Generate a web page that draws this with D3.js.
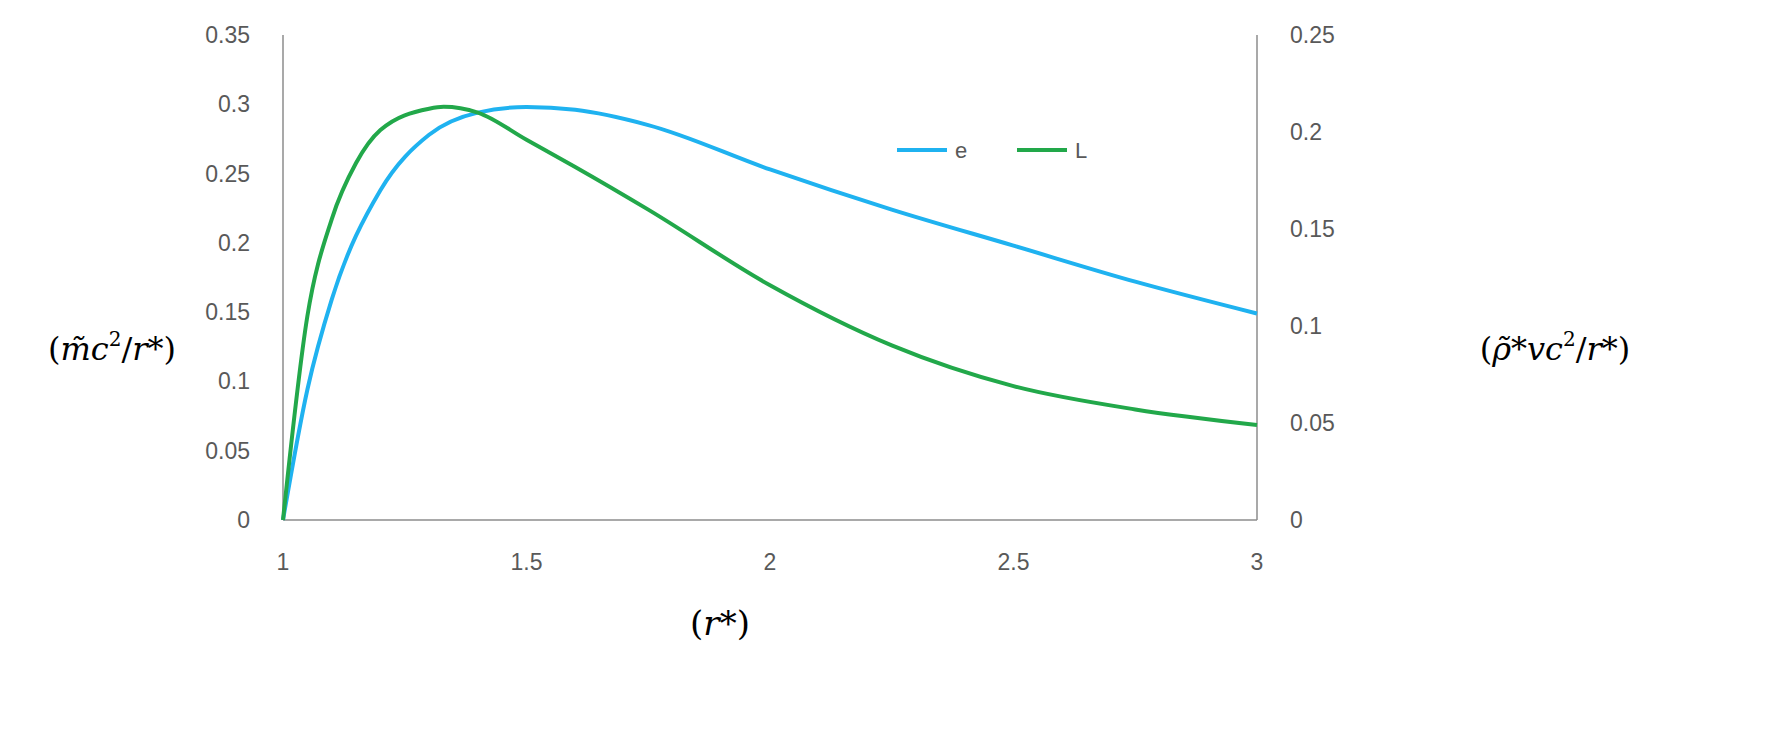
<!DOCTYPE html><html><head><meta charset="utf-8"><script src="https://cdn.jsdelivr.net/npm/d3@7"></script>
<style>body{margin:0;background:#fff}</style></head><body><svg id="c" width="1783" height="752"></svg>
<script>
const rVals=[1,1.05,1.1,1.2,1.3,1.4,1.5,1.6,1.75,2,2.25,2.5,2.75,3];
const eVals=[0,0.094,0.159,0.238,0.278,0.294,0.298,0.296,0.285,0.253,0.224,0.198,0.172,0.149];
const lR=[1,1.05,1.1,1.15,1.2,1.3,1.33,1.4,1.5,1.6,1.75,2,2.25,2.5,2.75,3];
const lVals=[0,0.105,0.155,0.184,0.201,0.212,0.213,0.210,0.196,0.182,0.160,0.121,0.090,0.069,0.057,0.049];
const xTicks=[1,1.5,2,2.5,3];
const yLTicks=[0,0.05,0.1,0.15,0.2,0.25,0.3,0.35];
const yRTicks=[0,0.05,0.1,0.15,0.2,0.25];
const svg=d3.select("#c");
const x=d3.scaleLinear().domain([1,3]).range([283,1257]);
const yl=d3.scaleLinear().domain([0,0.35]).range([520,35]);
const yr=d3.scaleLinear().domain([0,0.25]).range([520,35]);
const g="#8c8c8c",tc="#595959";
svg.append("line").attr("x1",283).attr("x2",283).attr("y1",35).attr("y2",520).attr("stroke",g).attr("stroke-width",1.5);
svg.append("line").attr("x1",1257).attr("x2",1257).attr("y1",35).attr("y2",520).attr("stroke",g).attr("stroke-width",1.5);
svg.append("line").attr("x1",283).attr("x2",1257).attr("y1",520).attr("y2",520).attr("stroke",g).attr("stroke-width",1.5);
const f="Liberation Sans, Arial, sans-serif";
svg.selectAll(".xl").data(xTicks).join("text").attr("x",d=>x(d)).attr("y",570).attr("text-anchor","middle").attr("font-family",f).attr("font-size",23).attr("fill",tc).text(d=>d);
svg.selectAll(".yl").data(yLTicks).join("text").attr("x",250).attr("y",d=>yl(d)+8).attr("text-anchor","end").attr("font-family",f).attr("font-size",23).attr("fill",tc).text(d=>d);
svg.selectAll(".yr").data(yRTicks).join("text").attr("x",1290).attr("y",d=>yr(d)+8).attr("text-anchor","start").attr("font-family",f).attr("font-size",23).attr("fill",tc).text(d=>d);
const le=d3.line().x((d,i)=>x(rVals[i])).y(d=>yl(d)).curve(d3.curveMonotoneX);
const ll=d3.line().x((d,i)=>x(lR[i])).y(d=>yr(d)).curve(d3.curveMonotoneX);
svg.append("path").attr("d",le(eVals)).attr("fill","none").attr("stroke","#1fb2f0").attr("stroke-width",4);
svg.append("path").attr("d",ll(lVals)).attr("fill","none").attr("stroke","#22a84a").attr("stroke-width",4);
svg.append("line").attr("x1",897).attr("x2",947).attr("y1",150).attr("y2",150).attr("stroke","#1fb2f0").attr("stroke-width",4);
svg.append("text").attr("x",955).attr("y",158).attr("font-family",f).attr("font-size",22).attr("fill",tc).text("e");
svg.append("line").attr("x1",1017).attr("x2",1067).attr("y1",150).attr("y2",150).attr("stroke","#22a84a").attr("stroke-width",4);
svg.append("text").attr("x",1075).attr("y",158).attr("font-family",f).attr("font-size",22).attr("fill",tc).text("L");
const sf="DejaVu Serif, Liberation Serif, serif";
const a1=svg.append("text").attr("x",112).attr("y",360).attr("text-anchor","middle").attr("font-family",sf).attr("font-size",32).attr("fill","#000");
a1.append("tspan").text("(");a1.append("tspan").attr("font-style","italic").text("m̃c");a1.append("tspan").attr("font-size",20).attr("dy",-14).text("2");a1.append("tspan").attr("dy",14).text("/");a1.append("tspan").attr("font-style","italic").text("r");a1.append("tspan").text("*)");
const a2=svg.append("text").attr("x",1555).attr("y",360).attr("text-anchor","middle").attr("font-family",sf).attr("font-size",32).attr("fill","#000");
a2.append("tspan").text("(");a2.append("tspan").attr("font-style","italic").text("ρ̃");a2.append("tspan").text("*");a2.append("tspan").attr("font-style","italic").text("vc");a2.append("tspan").attr("font-size",20).attr("dy",-14).text("2");a2.append("tspan").attr("dy",14).text("/");a2.append("tspan").attr("font-style","italic").text("r");a2.append("tspan").text("*)");
const a3=svg.append("text").attr("x",720).attr("y",635).attr("text-anchor","middle").attr("font-family",sf).attr("font-size",34).attr("fill","#000");
a3.append("tspan").text("(");a3.append("tspan").attr("font-style","italic").text("r");a3.append("tspan").text("*)");
</script></body></html>
